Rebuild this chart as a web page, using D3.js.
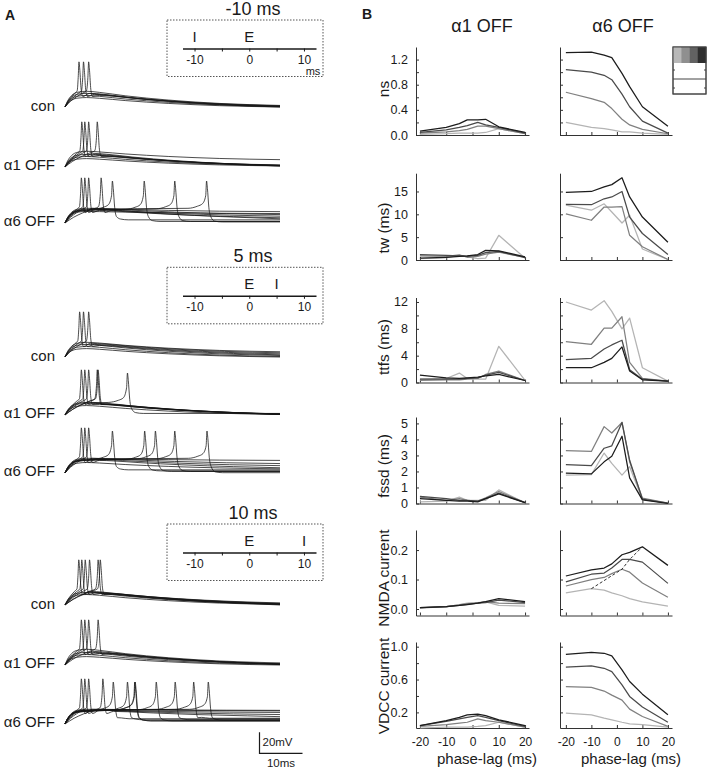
<!DOCTYPE html>
<html><head><meta charset="utf-8">
<script src="https://cdn.jsdelivr.net/npm/d3@7"></script>
<style>
body{margin:0;background:#fff}
svg{display:block}
text{font-family:Arial,"Liberation Sans",Helvetica,sans-serif;fill:#1a1a1a}
</style></head>
<body><svg id="c" width="708" height="769"></svg>
<script>
// ================= DATA =================
// ---- Panel B : x values (phase-lag, ms) ----
const phaseLag = [-20, -10, -5, -2, 2, 5, 10, 20];
const xTicks = [-20, -10, 0, 10, 20];
// series order: black, dark gray, mid gray, light gray
const shades = ["#1c1c1c", "#4a4a4a", "#808080", "#b4b4b4"];
const legendShades = ["#b8b8b8", "#8f8f8f", "#626262", "#2e2e2e"];

const ns_a1 = [[0.06,0.12,0.18,0.24,0.24,0.25,0.13,0.04],[0.04,0.08,0.12,0.15,0.20,0.16,0.12,0.03],[0.03,0.05,0.07,0.09,0.14,0.14,0.10,0.02],[0.01,0.02,0.03,0.03,0.03,0.04,0.10,0.02]];
const ns_a6 = [[1.31,1.32,1.27,1.23,0.98,0.77,0.45,0.14],[1.04,1.00,0.95,0.88,0.65,0.45,0.22,0.03],[0.68,0.58,0.52,0.42,0.25,0.16,0.09,0.02],[0.20,0.12,0.10,0.08,0.05,0.05,0.03,0.01]];
const tw_a1 = [[0.4,0.6,0.8,0.9,1.2,2.1,2.0,0.7],[1.2,1.0,0.9,0.8,1.0,1.6,1.9,0.5],[0.9,0.8,1.1,0.6,0.8,1.3,1.7,0.6],[0.3,0.5,1.0,0.7,0.3,0.4,5.4,0.4]];
const tw_a6 = [[14.8,15.0,16.0,16.5,18.0,13.8,9.4,3.9],[12.2,12.1,13.4,13.8,15.0,9.4,5.8,1.2],[10.1,8.7,11.6,11.6,11.7,5.4,2.9,0.1],[12.0,10.9,12.3,10.5,8.1,9.8,2.4,0.1]];
const ttfs_a1 = [[1.1,0.7,0.6,0.7,0.8,1.0,1.2,0.3],[0.5,0.5,0.5,0.6,0.7,1.1,1.5,0.3],[0.3,0.4,0.4,0.5,0.6,1.2,1.7,0.3],[0.5,0.6,1.4,0.6,0.5,0.5,5.4,0.3]];
const ttfs_a6 = [[2.2,2.2,3.0,3.6,5.3,1.7,0.4,0.2],[3.4,3.6,5.0,5.6,6.3,1.9,0.5,0.2],[6.1,5.7,8.1,8.1,9.8,3.0,0.6,0.2],[12.0,10.8,12.2,10.6,8.0,9.6,2.2,0.2]];
const fssd_a1 = [[0.3,0.2,0.15,0.15,0.1,0.3,0.6,0.05],[0.45,0.3,0.2,0.2,0.15,0.3,0.65,0.05],[0.4,0.2,0.3,0.2,0.15,0.35,0.75,0.05],[0.1,0.15,0.4,0.2,0.2,0.2,0.85,0.05]];
const fssd_a6 = [[1.9,1.85,2.6,2.95,4.2,1.6,0.23,0.0],[2.43,2.37,3.45,3.6,5.06,2.7,0.27,0.02],[3.3,3.25,4.8,4.4,5.06,2.6,0.33,0.02],[1.77,1.8,3.15,2.5,1.77,2.3,0.25,0.0]];
const nmda_a1 = [[0.005,0.008,0.012,0.015,0.02,0.025,0.035,0.025],[0.005,0.008,0.012,0.016,0.02,0.022,0.03,0.022],[0.004,0.008,0.014,0.018,0.02,0.025,0.02,0.018],[0.004,0.007,0.015,0.02,0.022,0.024,0.012,0.01]];
const nmda_a6 = [[0.112,0.133,0.139,0.153,0.184,0.192,0.211,0.148],[0.092,0.118,0.122,0.139,0.168,0.168,0.159,0.087],[0.078,0.100,0.107,0.120,0.135,0.125,0.088,0.040],[0.055,0.069,0.064,0.055,0.045,0.035,0.024,0.010]];
const nmdaDash = [[-10,0.069],[2,0.135],[5,0.168],[10,0.211]];
const vdcc_a1 = [[0.04,0.10,0.14,0.17,0.18,0.16,0.11,0.04],[0.04,0.09,0.12,0.14,0.16,0.14,0.10,0.03],[0.03,0.05,0.07,0.08,0.12,0.10,0.08,0.02],[0.01,0.02,0.02,0.02,0.03,0.04,0.08,0.02]];
const vdcc_a6 = [[0.907,0.93,0.92,0.887,0.717,0.576,0.422,0.172],[0.75,0.766,0.737,0.697,0.535,0.394,0.265,0.079],[0.515,0.505,0.46,0.41,0.35,0.24,0.15,0.03],[0.19,0.17,0.13,0.11,0.08,0.06,0.05,0.02]];

// y tick values and which are labelled
const nsTicks = [0,0.2,0.4,0.6,0.8,1.0,1.2], nsShown = [0,0.4,0.8,1.2];
const twTicks = [0,5,10,15];
const ttfsTicks = [0,2,4,6,8,10,12], ttfsShown = [0,4,8,12];
const fssdTicks = [0,1,2,3,4,5];
const nmdaTicks = [0,0.1,0.2];
const vdccTicks = [0.2,0.4,0.6,0.8,1.0], vdccShown = [0.2,0.6,1.0];

// ---- Panel A : traces. each trace = [spike time (ms) or null, plateau/hump (mV), end level (mV)] ----
const con_m10 = [[2.95,13,0.5],[4.0,12,0],[5.2,11,1],[null,15,1.5],[null,13,1],[null,11,0.5],[null,9,0]];
const a1_m10  = [[3.6,13,1.5],[4.3,12,1],[5.2,11,1.5],[7.2,10,1],[null,15,7],[null,12,2],[null,10,1.5],[null,8,1]];
const a6_m10  = [[3.5,14,8],[4.3,13,6.5],[5.2,12,5],[8.1,12,4],[10.7,12,3],[18.1,12,1.5],[25.2,12.5,1.5],[32.6,13,1],[null,14,10.8],[null,11,9]];
const con_p5  = [[3.1,13,4],[4.0,12,3],[5.2,11,2],[null,14,5],[null,12,1.5],[null,10,0.5],[null,8,0]];
const a1_p5   = [[3.5,12,1],[4.3,11,0.5],[5.2,10,1],[7.2,10,0.5],[7.4,10,0.5],[14.2,11,1.5],[null,12,1],[null,9,0.5]];
const a6_p5   = [[3.5,14,9],[4.3,13,7],[5.2,12,5],[10.7,12,3],[18.2,12,2],[20.7,12.5,1.5],[25.2,12.5,1.5],[32.7,13,0.3],[null,14,12],[null,10,4]];
const con_p10 = [[2.9,13,1.5],[3.6,12,1],[4.4,12,2],[5.4,11,0.5],[7.4,11,1],[7.9,10,0],[null,12,1],[null,10,0.5]];
const a1_p10  = [[3.5,13,1],[4.3,12,1],[5.2,11,1],[7.4,11,0.5],[null,15,2],[null,12,1],[null,10,0.5],[null,8,0]];
const a6_p10  = [[3.5,14,13],[4.3,13,11],[5.2,13,9],[8.5,12,7],[10.9,12,5],[14.2,12,4],[15.9,12.5,3],[16.0,12.5,3],[20.9,12.5,3],[25.3,13,4],[29.6,13,5.5],[33.0,13,3.5],[null,14,12.5]];

// waveform templates
const HUMP = [[0,0,0],[0.6,0.38,0],[1.5,0.72,0],[3,0.94,0],[5,1,0],[8,0.92,0.08],[14,0.68,0.32],[24,0.38,0.62],[36,0.14,0.86],[50,0,1]];
const RISE = [[0,0],[0.25,5.5],[0.5,9.5],[0.75,12.8],[0.96,15.5]];
const SPIKE = [[0.12,28],[0.3,43],[0.5,35],[0.8,17],[1.2,10]];
const AFTER = [[2.8,1,0],[6,0.93,0.07],[12,0.7,0.3],[22,0.4,0.6],[34,0.15,0.85]];
const RAMP = [[-4,1],[-1.8,3],[-0.6,5.5]];
const SPIKE_LATE = [[0.12,26],[0.32,40],[0.52,33],[0.85,15],[1.3,6]];
const FALL = [[2.2,0.8],[4,0]];

// inset timing schemes
const insetTicks = [-10,-5,0,5,10], insetLabels = [-10,0,10];
const insets = [{title:"-10 ms", I:-10, E:0, ms:true},{title:"5 ms", I:5, E:0},{title:"10 ms", I:10, E:0}];

// ================= DRAW =================
const svg = d3.select("#c");

// ---------- Panel A ----------
svg.append("text").attr("x",5).attr("y",20).attr("font-size",14).attr("font-weight","bold").text("A");
const tA = d3.scaleLinear().domain([0,50]).range([65,280]);

function tracePts(tr){
  const [ts,h,e] = tr; let p = [];
  if (ts === null){
    HUMP.forEach(([t,a,b]) => p.push([t, a*h + b*e]));
  } else if (ts < 9){
    RISE.forEach(([f,v]) => p.push([f*ts, v]));
    SPIKE.forEach(([dt,v]) => p.push([ts+dt, v]));
    AFTER.forEach(([dt,a,b]) => p.push([ts+dt, a*h + b*e]));
    p.push([50, e]);
  } else {
    HUMP.forEach(([t,a]) => { if (t <= Math.min(5, ts-4.5)) p.push([t, a*h]); });
    RAMP.forEach(([dt,dv]) => p.push([ts+dt, h+dv]));
    SPIKE_LATE.forEach(([dt,v]) => p.push([ts+dt, v]));
    FALL.forEach(([dt,dv]) => p.push([ts+dt, e+dv]));
    p.push([50, e]);
  }
  const out = [];
  p.forEach(q => { if (!out.length || q[0] > out[out.length-1][0] + 1e-6) out.push(q); });
  return out;
}

const blocks = [
  {top:20, groups:[["con",107,con_m10],["\u03b11 OFF",167,a1_m10],["\u03b16 OFF",223,a6_m10]]},
  {top:267.3, groups:[["con",357,con_p5],["\u03b11 OFF",415,a1_p5],["\u03b16 OFF",473,a6_p5]]},
  {top:524, groups:[["con",605,con_p10],["\u03b11 OFF",665,a1_p10],["\u03b16 OFF",724,a6_p10]]}
];
const xIn = d3.scaleLinear().domain([-12.2,12.2]).range([182.5,316]);

blocks.forEach((b,bi) => {
  const ins = insets[bi], top = b.top;
  svg.append("rect").attr("x",167).attr("y",top).attr("width",156).attr("height",56.5)
    .attr("fill","none").attr("stroke","#555").attr("stroke-width",1).attr("stroke-dasharray","1.5,1.5");
  svg.append("text").attr("x",253).attr("y",top-5).attr("font-size",18).attr("text-anchor","middle").text(ins.title);
  const ay = top + 28.5;
  const ax = d3.axisBottom(xIn).tickValues(insetTicks).tickSizeInner(3).tickSizeOuter(0).tickPadding(4)
    .tickFormat(d => insetLabels.includes(d) ? d : "");
  const g = svg.append("g").attr("transform",`translate(0,${ay})`).call(ax);
  g.select(".domain").attr("stroke","#1a1a1a").attr("stroke-width",1.6);
  g.selectAll(".tick line").attr("stroke","#1a1a1a");
  g.selectAll(".tick text").attr("font-size",12).attr("font-family","Arial,'Liberation Sans',sans-serif").attr("fill","#1a1a1a").attr("dy","0.72em");
  [["I",ins.I],["E",ins.E]].forEach(([s,v]) =>
    svg.append("text").attr("x",xIn(v)).attr("y",top+21.5).attr("font-size",15).attr("text-anchor","middle").text(s));
  if (ins.ms) svg.append("text").attr("x",313).attr("y",top+55).attr("font-size",11).attr("text-anchor","middle").text("ms");

  b.groups.forEach(([lab,y0,trs]) => {
    const v = d3.scaleLinear().domain([0,20]).range([y0, y0-21]);
    const line = d3.line().x(d => tA(d[0])).y(d => v(d[1])).curve(d3.curveMonotoneX);
    trs.forEach(tr => svg.append("path").attr("d", line(tracePts(tr)))
      .attr("fill","none").attr("stroke","#151515").attr("stroke-width",0.85).attr("stroke-opacity",0.9));
    svg.append("text").attr("x",55).attr("y", lab === "con" ? y0+3.8 : y0+2.8)
      .attr("font-size",15).attr("text-anchor","end").text(lab);
  });
});

// scale bar (20 mV, 10 ms)
{
  const vS = d3.scaleLinear().domain([0,20]).range([753.3, 732.3]);
  const x0 = 259.5, x1 = x0 + (tA(10) - tA(0));
  svg.append("path").attr("d",`M${x0},${vS(20)}V${vS(0)}H${x1}`).attr("fill","none").attr("stroke","#1a1a1a").attr("stroke-width",1.2);
  svg.append("text").attr("x",x0+3).attr("y",746).attr("font-size",11.5).text("20mV");
  svg.append("text").attr("x",(x0+x1)/2).attr("y",767).attr("font-size",11.5).attr("text-anchor","middle").text("10ms");
}

// ---------- Panel B ----------
svg.append("text").attr("x",362).attr("y",19).attr("font-size",14).attr("font-weight","bold").text("B");
svg.append("text").attr("x",482).attr("y",32).attr("font-size",18).attr("text-anchor","middle").text("\u03b11 OFF");
svg.append("text").attr("x",623).attr("y",32).attr("font-size",18).attr("text-anchor","middle").text("\u03b16 OFF");

const xA1 = d3.scaleLinear().domain([-21.5,21.5]).range([416,529]);
const xA6 = d3.scaleLinear().domain([-22.3,21.6]).range([560,672]);
const f1 = d3.format(".1f"), f0 = d3.format("d");
const rowsB = [
  {lab:"ns", a1:ns_a1, a6:ns_a6, dom:[0,1.4], rng:[135,47], ticks:nsTicks, shown:nsShown, fmt:f1, ly:89},
  {lab:"tw (ms)", a1:tw_a1, a6:tw_a6, dom:[0,19], rng:[260,173.2], ticks:twTicks, shown:twTicks, fmt:f0, ly:228},
  {lab:"ttfs (ms)", a1:ttfs_a1, a6:ttfs_a6, dom:[0,12.67], rng:[382.5,297.5], ticks:ttfsTicks, shown:ttfsShown, fmt:f0, ly:347},
  {lab:"fssd (ms)", a1:fssd_a1, a6:fssd_a6, dom:[0,5.4], rng:[503.5,417], ticks:fssdTicks, shown:fssdTicks, fmt:f0, ly:466},
  {lab:"NMDA current", a1:nmda_a1, a6:nmda_a6, dom:[-0.022,0.268], rng:[615.5,530], ticks:nmdaTicks, shown:nmdaTicks, fmt:f1, ly:578, dash:nmdaDash},
  {lab:"VDCC current", a1:vdcc_a1, a6:vdcc_a6, dom:[0.01,1.057], rng:[728,642], ticks:vdccTicks, shown:vdccShown, fmt:f1, ly:686}
];

function styleAxis(g, fs){
  g.select(".domain").attr("stroke","#333").attr("stroke-width",1);
  g.selectAll(".tick line").attr("stroke","#333");
  g.selectAll(".tick text").attr("font-size",fs).attr("font-family","Arial,'Liberation Sans',sans-serif").attr("fill","#1a1a1a");
}

rowsB.forEach((r,ri) => {
  const y = d3.scaleLinear().domain(r.dom).range(r.rng);
  const last = ri === rowsB.length - 1;
  [[xA1, r.a1, true],[xA6, r.a6, false]].forEach(([x, data, labelled]) => {
    const [xl] = x.range();
    const gy = svg.append("g").attr("transform",`translate(${xl},0)`)
      .call(d3.axisLeft(y).tickValues(r.ticks).tickSizeInner(-3).tickSizeOuter(0).tickPadding(8)
        .tickFormat(d => labelled && r.shown.includes(d) ? r.fmt(d) : ""));
    styleAxis(gy, 12.5);
    const gx = svg.append("g").attr("transform",`translate(0,${r.rng[0]})`)
      .call(d3.axisBottom(x).tickValues(xTicks).tickSizeInner(-3).tickSizeOuter(0).tickPadding(9)
        .tickFormat(d => last ? d : ""));
    styleAxis(gx, 12);
    const line = d3.line().x((d,i) => x(phaseLag[i])).y(d => y(d));
    for (let s = data.length - 1; s >= 0; s--){
      svg.append("path").attr("d", line(data[s])).attr("fill","none")
        .attr("stroke", shades[s]).attr("stroke-width",1.25).attr("stroke-linejoin","round");
    }
    if (!labelled && r.dash){
      const dl = d3.line().x(d => x(d[0])).y(d => y(d[1]));
      svg.append("path").attr("d", dl(r.dash)).attr("fill","none").attr("stroke","#333")
        .attr("stroke-width",1).attr("stroke-dasharray","3,2");
    }
  });
  svg.append("text").attr("transform",`translate(383,${r.ly}) rotate(-90)`)
    .attr("font-size",15.5).attr("text-anchor","middle").attr("dominant-baseline","central").text(r.lab);
});

// x labels
svg.append("text").attr("x",487).attr("y",763.5).attr("font-size",15).attr("text-anchor","middle").text("phase-lag (ms)");
svg.append("text").attr("x",631).attr("y",763.5).attr("font-size",15).attr("text-anchor","middle").text("phase-lag (ms)");

// legend box
{
  const lx = 673, ly = 47, lw = 33, lh = 47;
  svg.append("rect").attr("x",lx).attr("y",ly).attr("width",lw).attr("height",lh).attr("fill","#fff").attr("stroke","#444").attr("stroke-width",1);
  const cw = d3.scaleBand().domain(d3.range(legendShades.length)).range([lx, lx+lw]);
  legendShades.forEach((c,i) => svg.append("rect").attr("x",cw(i)).attr("y",ly).attr("width",cw.bandwidth()+0.3).attr("height",16).attr("fill",c));
  svg.append("rect").attr("x",lx).attr("y",ly).attr("width",lw).attr("height",lh).attr("fill","none").attr("stroke","#444").attr("stroke-width",1);
  svg.append("line").attr("x1",lx).attr("x2",lx+lw).attr("y1",79).attr("y2",79).attr("stroke","#444").attr("stroke-width",1);
  [70,88].forEach(yy => {
    svg.append("line").attr("x1",lx).attr("x2",lx+2).attr("y1",yy).attr("y2",yy).attr("stroke","#444");
    svg.append("line").attr("x1",lx+lw-2).attr("x2",lx+lw).attr("y1",yy).attr("y2",yy).attr("stroke","#444");
  });
}
</script></body></html>
